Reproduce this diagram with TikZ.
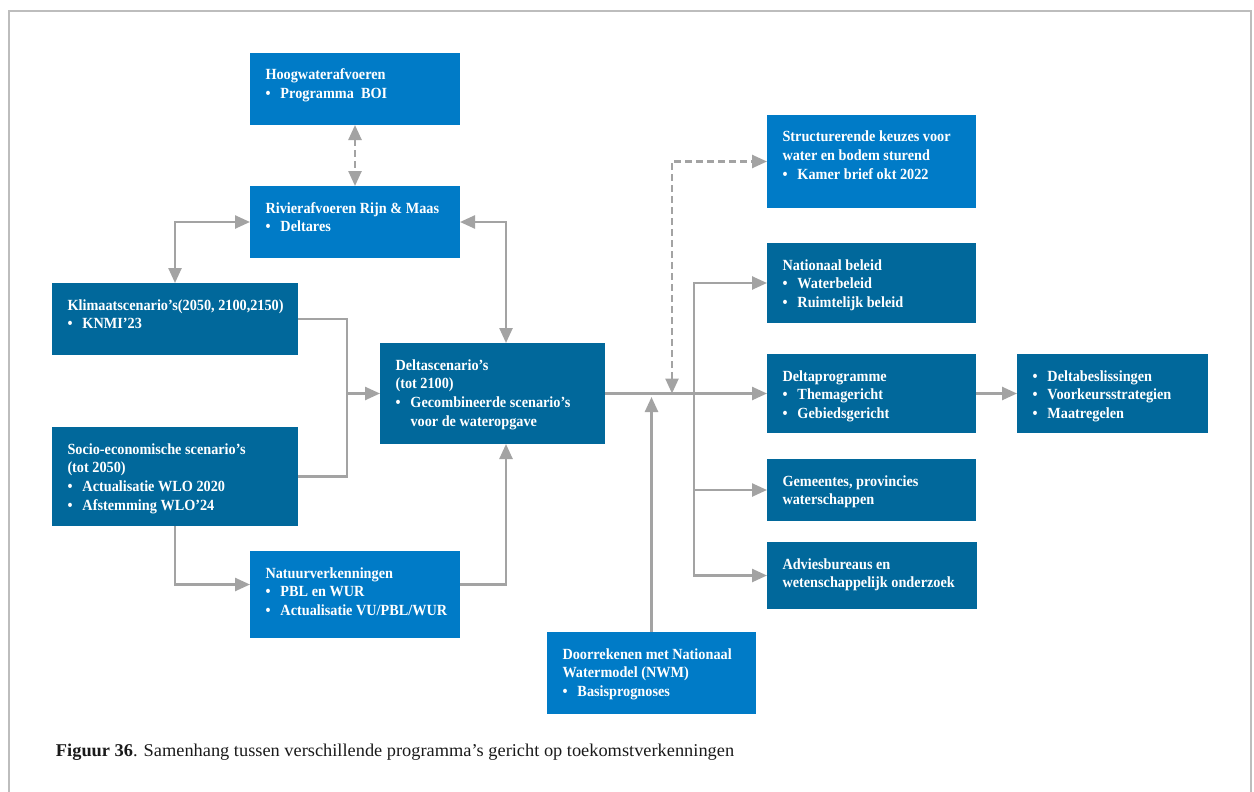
\documentclass[tikz,border=0pt]{standalone}
\usepackage{fontspec}
\usetikzlibrary{arrows.meta,calc}
\newfontfamily\boxfont{Liberation Serif}[FakeStretch=0.92]
\newfontfamily\capfont{Liberation Serif}[FakeStretch=1.02]
\definecolor{lblue}{HTML}{007BC7}
\definecolor{dblue}{HTML}{01689B}
\definecolor{arrgray}{HTML}{A3A3A3}
\definecolor{framegray}{HTML}{BDBDBD}
\definecolor{captxt}{HTML}{1A1A1A}
\newcommand\bul[1]{\makebox[15pt][l]{•}#1}
\newcommand\cont[1]{\hspace*{15pt}#1}
\tikzset{
  boxsty/.style={draw=none, rectangle, inner sep=0pt, outer sep=0pt},
  txtsty/.style={inner sep=0pt, outer sep=0pt, text=white, font=\boxfont\bfseries\fontsize{15.5}{18.7}\selectfont},
  capsty/.style={inner sep=0pt, outer sep=0pt, text=captxt, font=\capfont\fontsize{18}{21}\selectfont},
  conn/.style={draw=arrgray, line width=2.5pt},
  >={Triangle[length=15pt,width=13pt]},
  dsh/.style={dash pattern=on 7pt off 4pt}
}
\newcommand\mybox[7]{%
  \node[boxsty, fill=#2, minimum width={(#5)-(#3)}, minimum height={(#6)-(#4)}, anchor=north west] (#1) at (#3,#4) {};
  \node[txtsty, anchor=base west] (#1-t) at ($(#1.north west)+(15.5,27)$) {\parbox[t]{240pt}{#7}};
}
\begin{document}
\begin{tikzpicture}[x=1pt,y=-1pt]
\useasboundingbox (0,0) rectangle (1254,792);
\draw[framegray, line width=1.2pt] (9,800) -- (9,11) -- (1251,11) -- (1251,800);

\mybox{hoog}{lblue}{250}{53}{460}{125}{Hoogwaterafvoeren\\\bul{Programma\ \ BOI}}
\mybox{riv}{lblue}{250}{186}{460}{258}{Rivierafvoeren Rijn \& Maas\\\bul{Deltares}}
\mybox{klim}{dblue}{52}{283}{298}{355}{Klimaatscenario’s(2050, 2100,2150)\\\bul{KNMI’23}}
\mybox{soc}{dblue}{52}{427}{298}{526}{Socio-economische scenario’s\\(tot 2050)\\\bul{Actualisatie WLO 2020}\\\bul{Afstemming WLO’24}}
\mybox{natu}{lblue}{250}{551}{460}{638}{Natuurverkenningen\\\bul{PBL en WUR}\\\bul{Actualisatie VU/PBL/WUR}}
\mybox{dsc}{dblue}{380}{343}{605}{444}{Deltascenario’s\\(tot 2100)\\\bul{Gecombineerde scenario’s}\\\cont{voor de wateropgave}}
\mybox{door}{lblue}{547}{632}{756}{714}{Doorrekenen met Nationaal\\Watermodel (NWM)\\\bul{Basisprognoses}}
\mybox{struc}{lblue}{767}{115}{976}{208}{Structurerende keuzes voor\\water en bodem sturend\\\bul{Kamer brief okt 2022}}
\mybox{natb}{dblue}{767}{243}{976}{323}{Nationaal beleid\\\bul{Waterbeleid}\\\bul{Ruimtelijk beleid}}
\mybox{dprog}{dblue}{767}{354}{976}{433}{Deltaprogramme\\\bul{Themagericht}\\\bul{Gebiedsgericht}}
\mybox{dbes}{dblue}{1017}{354}{1208}{433}{\bul{Deltabeslissingen}\\\bul{Voorkeursstrategien}\\\bul{Maatregelen}}
\mybox{gem}{dblue}{767}{459}{976}{521}{Gemeentes, provincies\\waterschappen}
\mybox{adv}{dblue}{767}{542}{977}{609}{Adviesbureaus en\\wetenschappelijk onderzoek}

\coordinate (dtop) at (506,343);
\coordinate (dbot) at (506,444);
\coordinate (mj) at (347,393.5);
\coordinate (dj) at (651.5,397);
\coordinate (dsj) at (672,393.5);
\coordinate (bj) at (694,393.5);

\draw[conn, dsh, <->] (hoog.south) -- (riv.north);
\draw[conn, <->] (riv.west) -| (klim.north);
\draw[conn, <->] (riv.east) -| (dtop);
\draw[conn] (klim.east) -| (mj) |- (soc.east);
\draw[conn, ->] (mj) -- (dsc.west);
\draw[conn, ->] (soc.south) |- ([yshift=10pt]natu.west);
\draw[conn, ->] ([yshift=10pt]natu.east) -| (dbot);
\draw[conn, ->] (dsc.east) -- (dprog.west);
\draw[conn, ->] (door.north) -- (dj);
\draw[conn, dsh, <->] (dsj) |- (struc.west);
\draw[conn, ->] (bj) |- (natb.west);
\draw[conn, ->] (bj) |- (gem.west);
\draw[conn, ->] (bj) |- (adv.west);
\draw[conn, ->] (dprog.east) -- (dbes.west);

\node[capsty, anchor=base west] (cap) at (56,756) {\textbf{Figuur 36}. Samenhang tussen verschillende programma’s gericht op toekomstverkenningen};
\end{tikzpicture}
\end{document}
